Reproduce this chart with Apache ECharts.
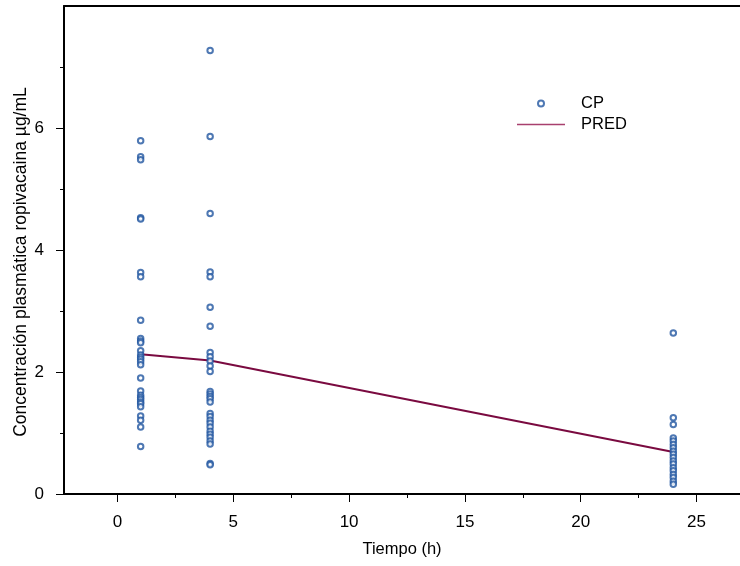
<!DOCTYPE html>
<html>
<head>
<meta charset="utf-8">
<script src="https://cdn.jsdelivr.net/npm/echarts@6/dist/echarts.min.js"></script>
<style>html,body{margin:0;padding:0;background:#fff}#c{width:740px;height:566px}</style>
</head>
<body>
<div id="c"></div>
<script>
// ---- data ----
var timePoints = [1, 4, 24];
var cpAt1 = [5.79, 5.53, 5.48, 4.53, 4.51, 3.63, 3.56, 2.85, 2.55, 2.51, 2.48, 2.35, 2.28, 2.24, 2.21, 2.17, 2.12, 1.90, 1.69, 1.62, 1.58, 1.55, 1.51, 1.48, 1.43, 1.28, 1.21, 1.10, 0.78];
var cpAt4 = [7.27, 5.86, 4.60, 3.64, 3.56, 3.06, 2.75, 2.32, 2.25, 2.18, 2.10, 2.01, 1.68, 1.64, 1.60, 1.56, 1.51, 1.32, 1.27, 1.21, 1.16, 1.10, 1.03, 0.98, 0.93, 0.87, 0.82, 0.50, 0.48];
var cpAt24 = [2.64, 1.25, 1.14, 0.92, 0.87, 0.81, 0.76, 0.70, 0.65, 0.60, 0.54, 0.49, 0.43, 0.38, 0.32, 0.27, 0.21, 0.16];
var predValues = [2.29, 2.19, 0.69];
var xTickLabels = [0, 5, 10, 15, 20, 25];
var xMinorTicks = [2.5, 7.5, 12.5, 17.5, 22.5];
var yTickLabels = [0, 2, 4, 6];
var yMinorTicks = [1, 3, 5, 7];

// ---- build ----
var cpGroups = [cpAt1, cpAt4, cpAt24];
var cpData = [];
timePoints.forEach(function (t, i) {
  cpGroups[i].forEach(function (v) { cpData.push([t, v]); });
});
var predData = timePoints.map(function (t, i) { return [t, predValues[i]]; });

var font = 'Liberation Sans, Arial, sans-serif';
var XMIN = -2.31, XMAX = 26.88;
var BLUE = '#2256a0', MAROON = '#7a0a40', LEGEND_LINE = '#a8406e';
var chart = echarts.init(document.getElementById('c'), null, {renderer: 'canvas'});
chart.setOption({
  animation: false,
  backgroundColor: '#fff',
  grid: {left: 64, top: 6, right: 0, bottom: 72, containLabel: false, outerBoundsMode: 'none'},
  legend: {
    orient: 'vertical', left: 512, top: 90, itemWidth: 48, itemHeight: 6, itemGap: 4,
    textStyle: {fontFamily: font, fontSize: 16.5, color: '#000', padding: [0, 0, 0, 11]},
    data: [
      {name: 'CP'},
      {name: 'PRED', icon: 'path://M0,0L48,0L48,1.3L0,1.3Z',
       itemStyle: {color: LEGEND_LINE, borderWidth: 0, borderColor: LEGEND_LINE},
       lineStyle: {color: LEGEND_LINE, width: 0}}
    ]
  },
  xAxis: [{
    type: 'value', min: XMIN, max: XMAX, position: 'bottom',
    name: 'Tiempo (h)', nameLocation: 'middle', nameGap: 47, nameMoveOverlap: false,
    nameTextStyle: {fontFamily: font, fontSize: 16.5, color: '#000'},
    axisLine: {show: true, onZero: false, lineStyle: {color: '#000', width: 2}},
    axisTick: {show: true, length: 8, customValues: xTickLabels, lineStyle: {color: '#000', width: 1}},
    axisLabel: {customValues: xTickLabels, margin: 20, fontFamily: font, fontSize: 17, color: '#000'},
    splitLine: {show: false}
  }, {
    type: 'value', min: XMIN, max: XMAX, position: 'bottom',
    axisLine: {show: false, onZero: false},
    axisTick: {show: true, length: 4, customValues: xMinorTicks, lineStyle: {color: '#000', width: 1}},
    axisLabel: {show: false}, splitLine: {show: false}
  }, {
    type: 'value', min: XMIN, max: XMAX, position: 'top',
    axisLine: {show: true, onZero: false, lineStyle: {color: '#000', width: 2}},
    axisTick: {show: false}, axisLabel: {show: false}, splitLine: {show: false}
  }],
  yAxis: [{
    type: 'value', min: 0, max: 8, position: 'left',
    name: 'Concentración plasmática ropivacaina µg/mL', nameLocation: 'middle', nameGap: 34, nameRotate: 90,
    nameMoveOverlap: false,
    nameTextStyle: {fontFamily: font, fontSize: 17.5, color: '#000', padding: [0, 24, 0, 0]},
    axisLine: {show: true, onZero: false, lineStyle: {color: '#000', width: 2}},
    axisTick: {show: true, length: 8, customValues: yTickLabels, lineStyle: {color: '#000', width: 1}},
    axisLabel: {customValues: yTickLabels, margin: 20, fontFamily: font, fontSize: 17, color: '#000'},
    splitLine: {show: false}
  }, {
    type: 'value', min: 0, max: 8, position: 'left',
    axisLine: {show: false, onZero: false},
    axisTick: {show: true, length: 4, customValues: yMinorTicks, lineStyle: {color: '#000', width: 1}},
    axisLabel: {show: false}, splitLine: {show: false}
  }],
  series: [{
    name: 'PRED', type: 'line', data: predData, symbol: 'none',
    lineStyle: {color: MAROON, width: 2}, itemStyle: {color: MAROON}, z: 2
  }, {
    name: 'CP', type: 'scatter', data: cpData, symbol: 'emptyCircle', symbolSize: 5.5,
    itemStyle: {color: BLUE, borderColor: BLUE, borderWidth: 1}, z: 3
  }]
});
</script>
</body>
</html>
